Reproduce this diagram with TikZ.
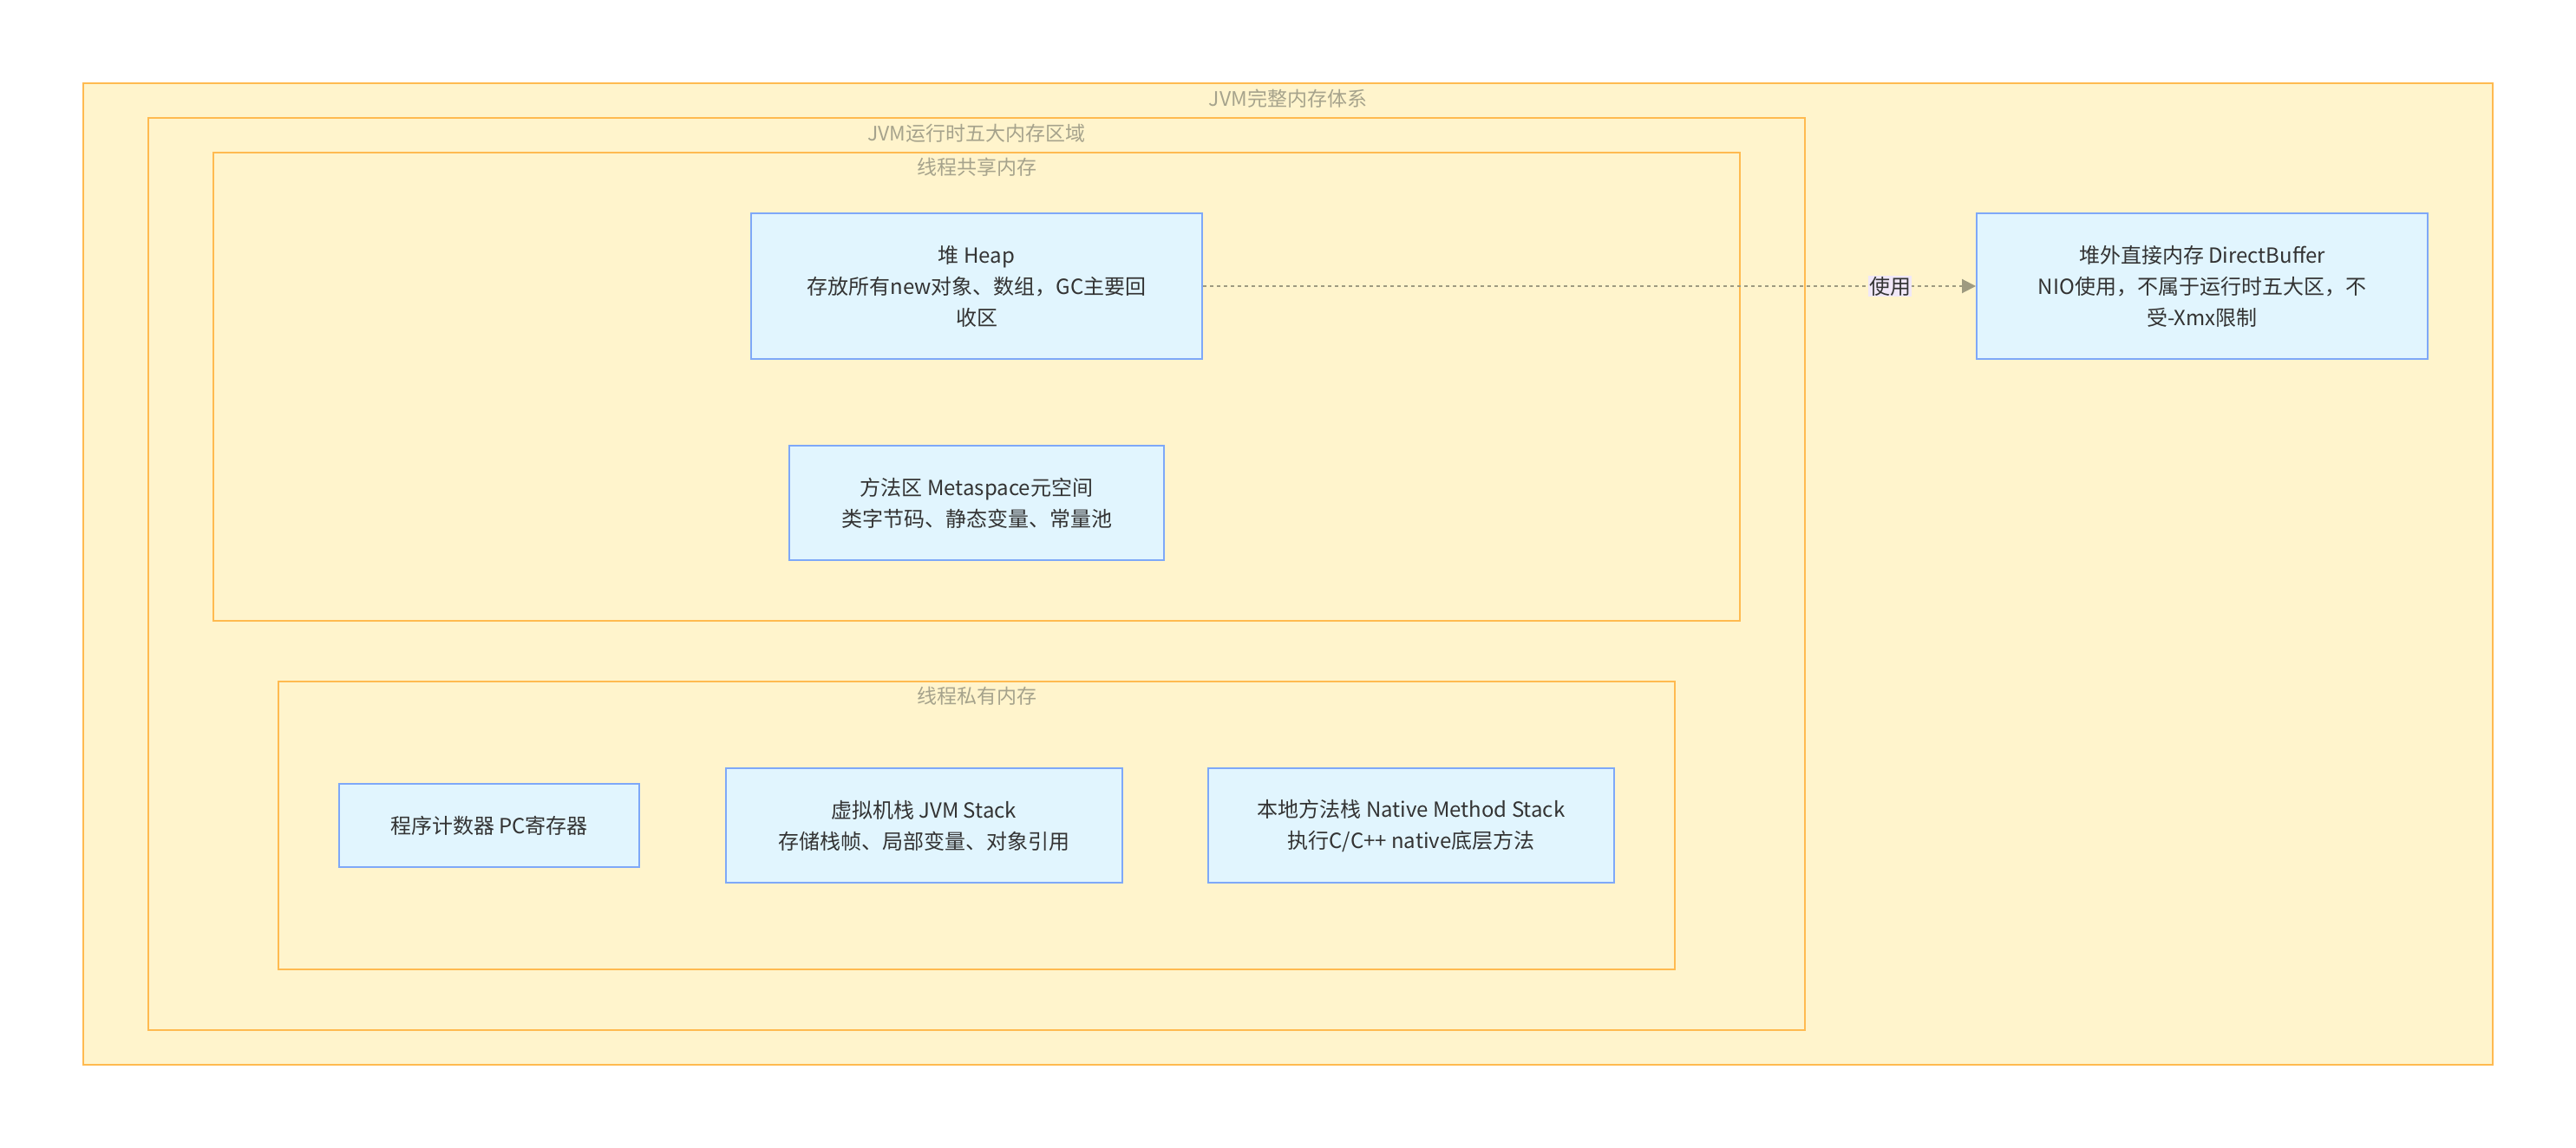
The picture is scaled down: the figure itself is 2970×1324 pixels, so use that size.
\documentclass[tikz,border=0pt]{standalone}
\usepackage{fontspec}
\setmainfont{Noto Sans CJK SC}
\usetikzlibrary{arrows.meta,positioning,calc}
\definecolor{clusterfill}{HTML}{FFF4CC}
\definecolor{clusterline}{HTML}{FFBA50}
\definecolor{titletext}{HTML}{A6A38C}
\definecolor{boxfill}{HTML}{E1F5FE}
\definecolor{boxline}{HTML}{7EA8F8}
\definecolor{edgeline}{HTML}{9E9A80}
\definecolor{edgelbl}{HTML}{F1E8F8}

\begin{document}
\begin{tikzpicture}
   [x=1pt,y=-1pt,
      cluster/.style={draw=clusterline,fill=clusterfill,line width=2pt,
      inner sep=0pt},
ctitle/.style={text=titletext,font=\fontsize{23}{28}\selectfont,inner sep=0pt},
region/.style={draw=boxline,fill=boxfill,line width=2pt,align=center,
text=black!80,font=\fontsize{24}{36}\selectfont,inner sep=0pt},
use/.style={edgeline,line width=2pt,dash pattern=on 4pt off 4pt,
-{Triangle[length=16pt,width=16pt]}},
usetext/.style={fill=edgelbl,text=black!80,font=\fontsize{24}{30}\selectfont,
inner sep=1pt}]
%%
\useasboundingbox (0,0) rectangle (2970,1324);
%%
%% clusters
\node (jvm) [cluster,line width=1.5pt,minimum width=2778pt,minimum height=1132pt] at (1485,662) {};
\node [ctitle] at (1485,114) {JVM完整内存体系};
\node (runtime) [cluster,minimum width=1910pt,minimum height=1052pt] at (1126,662) {};
\node [ctitle] at (1126,154) {JVM运行时五大内存区域};
\node (shared) [cluster,minimum width=1760pt,minimum height=540pt] at (1126,446) {};
\node [ctitle] at (1126,193) {线程共享内存};
\node (private) [cluster,minimum width=1610pt,minimum height=332pt] at (1126,952) {};
\node [ctitle] at (1126,803) {线程私有内存};
%%
%% memory regions
\node (heap) [region,minimum width=520pt,minimum height=168pt] at (1126,330)
{堆 Heap\\存放所有new对象、数组，GC主要回\\收区};
\node (meta) [region,minimum width=432pt,minimum height=132pt] at (1126,580)
{方法区 Metaspace元空间\\类字节码、静态变量、常量池};
\node (pc) [region,minimum width=346pt,minimum height=96pt] at (564,952)
{程序计数器 PC寄存器};
\node (stack) [region,minimum width=457pt,minimum height=132pt] at (1065,952)
{虚拟机栈 JVM Stack\\存储栈帧、局部变量、对象引用};
\node (native) [region,minimum width=468pt,minimum height=132pt] at (1627,952)
{本地方法栈 Native Method Stack\\执行C/C++ native底层方法};
\node (direct) [region,minimum width=520pt,minimum height=168pt] at (2539,330)
{堆外直接内存 DirectBuffer\\NIO使用，不属于运行时五大区，不\\受-Xmx限制};
%%
\draw[use] (heap) -- (direct) node [usetext,pos=.889] {使用};
\end{tikzpicture}
\end{document}
